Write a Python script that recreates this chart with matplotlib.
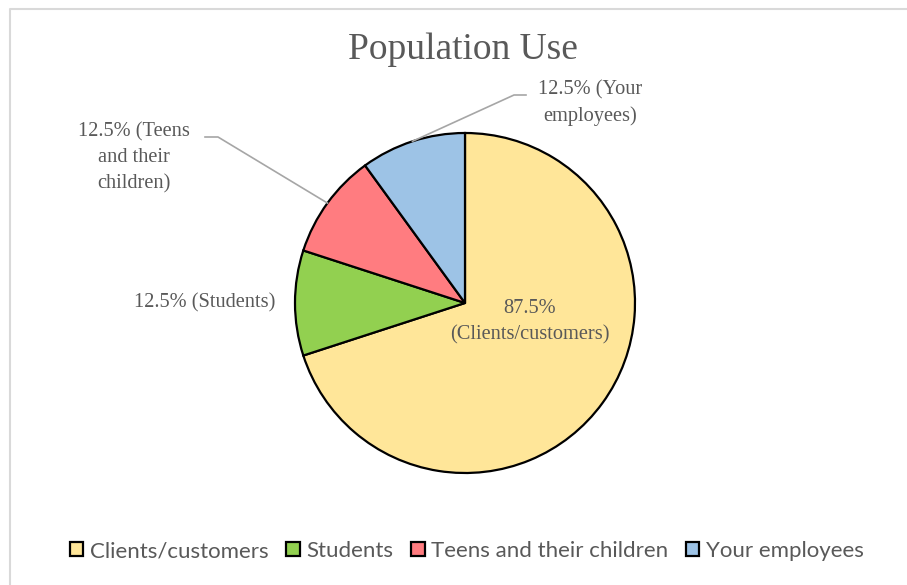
import numpy as np
import matplotlib
matplotlib.use('Agg')
import matplotlib.pyplot as plt
from matplotlib.lines import Line2D

# chart data
categories = ['Clients/customers', 'Students', 'Teens and their children', 'Your employees']
percents = [87.5, 12.5, 12.5, 12.5]
slice_labels = ['87.5%\n(Clients/customers)', '12.5% (Students)',
                '12.5% (Teens\nand their\nchildren)', '12.5% (Your\nemployees)']
colors = ['#FFE699', '#92D050', '#FF7C80', '#9DC3E6']

W, H = 907, 585
text_grey = '#595959'
serif = ['Liberation Serif', 'DejaVu Serif']

fig = plt.figure(figsize=(W / 100, H / 100), dpi=100)
ax = fig.add_axes([0, 0, 1, 1])
ax.set_xlim(0, W)
ax.set_ylim(0, H)
ax.set_aspect('equal')
ax.axis('off')

def py(y):
    # pixel row (from top) to axis y
    return H - y

# chart border (only left and top visible in the crop)
ax.add_line(Line2D([10, 10, W], [0, py(9), py(9)], color='#d9d9d9', lw=1.5))

cx, cy, r = 465, 303, 170
wedges, _ = ax.pie(percents, colors=colors, startangle=90, counterclock=False,
                   center=(cx, py(cy)), radius=r,
                   wedgeprops=dict(edgecolor='black', linewidth=1.6))

ax.set_xlim(0, W)
ax.set_ylim(0, H)

# title
ax.text(463, py(50), 'Population Use', ha='center', va='center',
        fontsize=27, color=text_grey, family=serif)

lab_fs = 14.7
ls = 1.5
# data labels
ax.text(530, py(322), slice_labels[0], ha='center', va='center', fontsize=lab_fs,
        color=text_grey, family=serif, linespacing=ls)
ax.text(205, py(303), slice_labels[1], ha='center', va='center', fontsize=lab_fs,
        color=text_grey, family=serif)
ax.text(134, py(158), slice_labels[2], ha='center', va='center', fontsize=lab_fs,
        color=text_grey, family=serif, linespacing=ls)
ax.text(590, py(103), slice_labels[3], ha='center', va='center', fontsize=lab_fs,
        color=text_grey, family=serif, linespacing=ls)

# leader lines to wedge edges
def edge_point(w):
    mid = np.deg2rad((w.theta1 + w.theta2) / 2)
    return cx + r * np.cos(mid), py(cy) + r * np.sin(mid)

ex, ey = edge_point(wedges[2])
ax.add_line(Line2D([205, 218, ex], [py(137), py(137), ey], color='#a6a6a6', lw=1.2))
ex, ey = edge_point(wedges[3])
ax.add_line(Line2D([526, 514, ex], [py(95), py(95), ey], color='#a6a6a6', lw=1.2))

# legend
handles = [plt.Rectangle((0, 0), 1, 1, facecolor=c, edgecolor='black', lw=1.6) for c in colors]
leg = fig.legend(handles, categories, loc='center', bbox_to_anchor=(467 / W, 1 - 551 / H),
                 ncol=4, frameon=False, handlelength=0.6, handleheight=0.6,
                 handletextpad=0.3, columnspacing=0.8,
                 prop={'family': ['Lato', 'DejaVu Sans'], 'size': 16})
for t in leg.get_texts():
    t.set_color(text_grey)

fig.savefig('out.png', dpi=100, facecolor='white')
